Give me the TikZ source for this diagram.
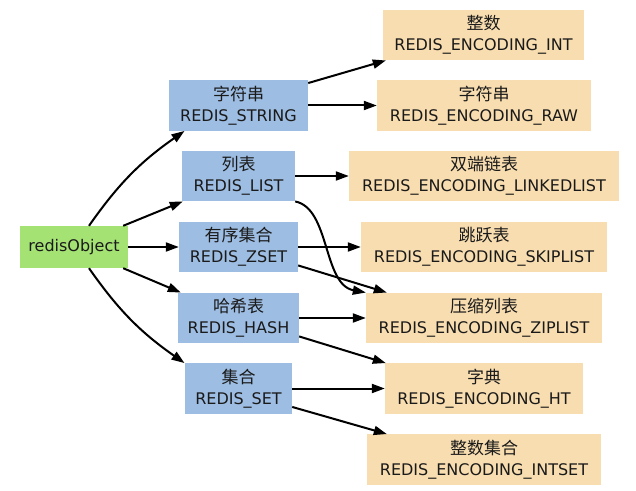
\documentclass[tikz,border=0pt]{standalone}
\usepackage{fontspec}
\setmainfont{DejaVu Sans}
\newfontfamily\cjk{Noto Sans CJK SC}
\usetikzlibrary{arrows.meta,calc}
\definecolor{bl}{HTML}{9DBDE2}
\definecolor{tn}{HTML}{F8DDB0}
\definecolor{gr}{HTML}{A4E274}
\definecolor{tx}{HTML}{1A1A1A}
\begin{document}
\begin{tikzpicture}[x=1pt,y=1pt,
  box/.style={draw=none,inner sep=0pt,align=center,font=\fontsize{16}{21}\selectfont,text=tx},
  typ/.style={box,fill=bl,minimum height=50.5pt},
  enc/.style={box,fill=tn,minimum height=50.5pt},
  zh/.style={},
  arr/.style={line width=2pt,-{Triangle[length=13pt,width=9pt]}}]
\fill[white] (0,0) rectangle (636,490);
\useasboundingbox (0,0) rectangle (636,490);
% root
\node[box,fill=gr,minimum width=108pt,minimum height=42pt] (obj) at (74,243) {redisObject};
% types
\node[typ,minimum width=139pt] (str)  at (238.5,384.5) {{\cjk\fontsize{17}{21}\selectfont 字符串}\\REDIS\_STRING};
\node[typ,minimum width=113pt] (list) at (238.5,314)   {{\cjk\fontsize{17}{21}\selectfont 列表}\\REDIS\_LIST};
\node[typ,minimum width=119pt] (zset) at (238.5,243)   {{\cjk\fontsize{17}{21}\selectfont 有序集合}\\REDIS\_ZSET};
\node[typ,minimum width=121pt] (hash) at (238.5,172)   {{\cjk\fontsize{17}{21}\selectfont 哈希表}\\REDIS\_HASH};
\node[typ,minimum width=107pt] (set)  at (238.5,101.5) {{\cjk\fontsize{17}{21}\selectfont 集合}\\REDIS\_SET};
% encodings
\node[enc,minimum width=201pt] (int)    at (483.5,455)  {{\cjk\fontsize{17}{21}\selectfont 整数}\\REDIS\_ENCODING\_INT};
\node[enc,minimum width=214pt] (raw)    at (484,384.5)  {{\cjk\fontsize{17}{21}\selectfont 字符串}\\REDIS\_ENCODING\_RAW};
\node[enc,minimum width=270pt] (linked) at (484,314)    {{\cjk\fontsize{17}{21}\selectfont 双端链表}\\REDIS\_ENCODING\_LINKEDLIST};
\node[enc,minimum width=246pt] (skip)   at (484,243)    {{\cjk\fontsize{17}{21}\selectfont 跳跃表}\\REDIS\_ENCODING\_SKIPLIST};
\node[enc,minimum width=236pt] (zip)    at (484,172)    {{\cjk\fontsize{17}{21}\selectfont 压缩列表}\\REDIS\_ENCODING\_ZIPLIST};
\node[enc,minimum width=198pt] (ht)     at (484,101.5)  {{\cjk\fontsize{17}{21}\selectfont 字典}\\REDIS\_ENCODING\_HT};
\node[enc,minimum width=234pt] (intset) at (484,30.5)   {{\cjk\fontsize{17}{21}\selectfont 整数集合}\\REDIS\_ENCODING\_INTSET};
% root edges
\draw[arr] ([xshift=15pt]obj.north) to[out=55,in=-145] ([xshift=-54pt]str.south);
\draw[arr] ([xshift=-5pt]obj.north east) -- ([xshift=1pt]list.south west);
\draw[arr] (obj) -- (zset);
\draw[arr] ([xshift=-5pt]obj.south east) -- ([xshift=3pt]hash.north west);
\draw[arr] ([xshift=15pt]obj.south) to[out=-55,in=145] ([xshift=-54pt]set.north);
% type edges
\draw[arr] ([yshift=-3pt]str.north east) -- ([xshift=3pt]int.south west);
\draw[arr] (str) -- (raw);
\draw[arr] (list) -- (linked);
\draw[arr] (list.south east) .. controls +(35,-7) and +(-43,8) .. (zip.north west);
\draw[arr] (zset) -- (skip);
\draw[arr] ([yshift=7pt]zset.south east) -- ([xshift=21pt]zip.north west);
\draw[arr] (hash) -- (zip);
\draw[arr] ([yshift=7pt]hash.south east) -- ([xshift=1pt]ht.north west);
\draw[arr] (set) -- (ht);
\draw[arr] ([yshift=7pt]set.south east) -- ([xshift=20pt]intset.north west);
\end{tikzpicture}
\end{document}
